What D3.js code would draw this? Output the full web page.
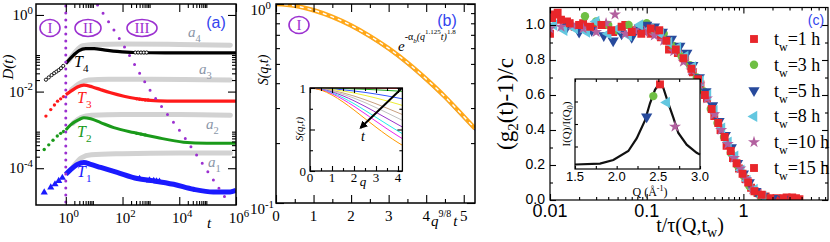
<!DOCTYPE html>
<html>
<head>
<meta charset="utf-8">
<script src="https://cdn.jsdelivr.net/npm/d3@7"></script>
<style>
    body { margin: 0; background: #fff; }
    svg { display: block; }
    text { font-family: "Liberation Serif", "Times New Roman", serif; }
    .sans { font-family: "Liberation Sans", Arial, sans-serif; }
</style>
</head>
<body>
<svg id="fig" width="830" height="242"></svg>
<script>
// ---- (a) D(t), pairs are [log10 t, log10 D] ----
const aT4 = [[0,-1.27],[0.23,-1.08],[0.47,-0.93],[0.7,-0.88],[1.0,-0.88],[1.34,-0.91],[1.81,-0.95],[2.4,-0.98],[3.5,-0.99],[5,-0.99],[6,-0.99]];
const aT4marks = [[-0.7,-1.69],[-0.6,-1.63],[-0.5,-1.57],[-0.41,-1.52],[-0.33,-1.48],[-0.25,-1.44],[-0.17,-1.39],[-0.09,-1.33],
                  [2.45,-0.98],[2.55,-0.98],[2.65,-0.98],[2.75,-0.98],[2.85,-0.98]];
const aT3 = [[0,-2.08],[0.18,-1.99],[0.41,-1.88],[0.64,-1.83],[0.94,-1.88],[1.23,-1.95],[1.58,-2.03],[2.05,-2.12],[2.46,-2.18],[2.98,-2.23],[3.57,-2.25],[6,-2.25]];
const aT3marks = [[-0.7,-2.64],[-0.53,-2.47],[-0.4,-2.35],[-0.29,-2.25],[-0.18,-2.19],[-0.08,-2.13],[2.5,-2.19],[2.6,-2.2],[2.7,-2.21],[2.8,-2.22],[2.9,-2.22]];
const aT2 = [[0,-3.0],[0.18,-2.86],[0.47,-2.73],[0.64,-2.68],[0.88,-2.71],[1.23,-2.81],[1.69,-2.94],[2.4,-3.07],[3.22,-3.2],[4.15,-3.32],[4.97,-3.35],[6,-3.35]];
const aT2marks = [[-0.76,-3.51],[-0.6,-3.39],[-0.45,-3.27],[-0.3,-3.16],[-0.18,-3.09],[-0.08,-3.04],[2.5,-3.09],[2.65,-3.11],[2.8,-3.13]];
const aT1 = [[0,-4.16],[0.18,-4.03],[0.41,-3.9],[0.64,-3.85],[0.88,-3.9],[1.23,-3.98],[1.81,-4.11],[2.52,-4.27],[3.1,-4.33],[3.8,-4.42],[4.5,-4.55],[5.2,-4.62],[5.79,-4.62],[6,-4.58]];
const aT1marks = [[-0.76,-4.63],[-0.53,-4.5],[-0.38,-4.42],[-0.25,-4.33],[-0.12,-4.25],[2.6,-4.28],[2.95,-4.32],[3.1,-4.33],[3.2,-4.34],[3.3,-4.35]];
const aA4 = [[0.1,-1.2],[0.35,-0.95],[0.6,-0.8],[1.0,-0.77],[2,-0.76],[4,-0.77],[5.8,-0.79]];
const aA3 = [[0.2,-1.95],[0.5,-1.78],[0.8,-1.7],[1.5,-1.68],[3,-1.68],[5.8,-1.7]];
const aA2 = [[0.25,-2.83],[0.55,-2.67],[0.9,-2.62],[2,-2.6],[4,-2.6],[5.8,-2.62]];
const aA1 = [[0.25,-3.97],[0.55,-3.73],[0.9,-3.65],[2,-3.62],[4,-3.6],[5.8,-3.6]];
const aDiagonal = [[1.12,0.26],[2.0,-0.75],[2.87,-1.85],[4.15,-3.16],[5.7,-4.86]];
const aBoundary = 1; // t = 1, dotted vertical line

// ---- (b) S(q,t) collapse versus q^(9/8) t ----
const bMaster = [[0,1],[0.5,0.98],[1,0.93],[1.5,0.862],[2,0.78],[2.5,0.69],[3,0.598],[3.5,0.507],[4,0.42],[4.5,0.342],[5,0.272],[5.3,0.237]];
const bUnder  = [[0,1],[0.5,0.977],[1,0.924],[1.5,0.853],[2,0.769],[2.5,0.679],[3,0.587],[3.5,0.497],[4,0.411],[4.5,0.335],[5,0.266],[5.3,0.232]];

// ---- (b) inset: S(q,t) versus q, one line per time ----
const insetQ = [0,0.5,1,1.5,2,2.5,3,3.5,4,4.2];
const insetColors = ["#e41a1c","#22aa22","#3355ff","#eeee33","#c8a080","#c0c0c0","#9933cc","#22eeee","#ee22ee","#ff9900"];
const insetS = [
    [1,1,1,1,0.999,0.998,0.997,0.996,0.995,0.995],
    [1,0.999,0.997,0.994,0.989,0.984,0.978,0.971,0.963,0.96],
    [1,0.997,0.99,0.978,0.964,0.947,0.927,0.905,0.88,0.87],
    [1,0.995,0.982,0.964,0.94,0.911,0.879,0.844,0.806,0.79],
    [1,0.992,0.971,0.941,0.903,0.859,0.81,0.757,0.702,0.68],
    [1,0.989,0.963,0.925,0.878,0.824,0.764,0.701,0.636,0.61],
    [1,0.986,0.953,0.905,0.846,0.779,0.707,0.633,0.559,0.53],
    [1,0.983,0.941,0.882,0.811,0.73,0.647,0.563,0.481,0.45],
    [1,0.98,0.931,0.862,0.78,0.691,0.599,0.508,0.422,0.39],
    [1,0.975,0.915,0.832,0.735,0.631,0.528,0.43,0.342,0.31]
];
const insetArrow = [[4.15,0.99],[2.3,0.52]];

// ---- (c) (g2(t)-1)/c versus t/tau, pairs are [t/tau, value] ----
const cLabels = ["=1 h","=3 h","=5 h","=8 h","=10 h","=15 h"];
const cColors = ["#e8262b","#6fbf44","#274a9c","#63c7e0","#b2609f","#e8262b"];
const c1h = [[0.01,0.95],[0.011,1.06],[0.012,1.07],[0.015,1.02],[0.018,0.99],[0.022,1.01],[0.028,0.98],[0.035,1.0],[0.045,0.96],[0.06,1.0],[0.075,0.97],[0.09,0.99],[0.11,0.95],[0.14,0.93],[0.17,0.86],[0.21,0.84],[0.25,0.8],[0.3,0.73],[0.36,0.66],[0.42,0.58],[0.5,0.48],[0.58,0.4],[0.67,0.31],[0.78,0.24],[0.9,0.18],[1.05,0.12],[1.2,0.07],[1.4,0.04],[1.7,0.02],[2.2,0.01],[2.8,0.015],[3.5,0.01]];
const c3h = [[0.023,1.05],[0.03,1.02],[0.04,1.0],[0.05,0.97],[0.065,1.0],[0.08,0.98],[0.1,1.01],[0.12,0.97],[0.15,0.95],[0.19,0.88],[0.23,0.82],[0.28,0.77],[0.33,0.7],[0.39,0.62],[0.46,0.52],[0.54,0.44],[0.63,0.36],[0.74,0.27],[0.86,0.2],[1.0,0.14],[1.15,0.08],[1.3,0.05],[1.5,0.02],[1.8,0.01]];
const c5h = [[0.015,0.99],[0.02,0.96],[0.027,0.97],[0.036,0.94],[0.045,0.91],[0.055,0.95],[0.07,0.93],[0.085,0.97],[0.1,1.0],[0.12,0.99],[0.145,0.96],[0.18,0.92],[0.22,0.88],[0.26,0.84],[0.3,0.77],[0.35,0.7],[0.41,0.62],[0.48,0.54],[0.56,0.45],[0.65,0.37],[0.75,0.3],[0.87,0.21],[1.0,0.15],[1.15,0.1],[1.35,0.05],[1.6,0.02],[2.0,0.01],[2.6,0.005]];
const c8h = [[0.011,1.0],[0.014,0.97],[0.018,0.98],[0.024,0.96],[0.03,1.02],[0.04,0.95],[0.05,0.98],[0.065,0.94],[0.085,1.0],[0.11,0.98],[0.14,0.95],[0.17,0.9],[0.21,0.87],[0.25,0.82],[0.3,0.76],[0.36,0.68],[0.43,0.6],[0.5,0.51],[0.6,0.41],[0.7,0.33],[0.82,0.25],[0.95,0.17],[1.1,0.11],[1.3,0.06],[1.6,0.02]];
const c10h = [[0.01,0.98],[0.013,0.99],[0.017,1.0],[0.022,0.98],[0.03,0.96],[0.038,1.01],[0.047,1.06],[0.06,0.95],[0.075,0.97],[0.095,0.96],[0.12,0.94],[0.15,0.91],[0.19,0.85],[0.24,0.79],[0.29,0.74],[0.35,0.66],[0.42,0.58],[0.5,0.49],[0.59,0.4],[0.69,0.32],[0.8,0.24],[0.93,0.18],[1.07,0.12],[1.25,0.06],[1.5,0.03]];
const c15h = [[0.0105,1.04],[0.013,1.03],[0.016,1.01],[0.02,1.0],[0.026,0.99],[0.034,1.0],[0.043,0.97],[0.055,0.99],[0.07,0.96],[0.088,0.95],[0.11,0.98],[0.135,0.97],[0.16,0.91],[0.2,0.86],[0.24,0.81],[0.29,0.75],[0.34,0.69],[0.4,0.6],[0.47,0.52],[0.55,0.44],[0.64,0.36],[0.74,0.28],[0.85,0.21],[0.98,0.15],[1.12,0.1],[1.3,0.05],[1.55,0.03],[1.9,0.01],[2.6,0.01],[3.2,0.015],[3.8,0.005]];

// ---- (c) inset: I(Q)/I(Q0) versus Q ----
const cInsetCurve = [[1.5,0.05],[1.8,0.06],[1.96,0.1],[2.14,0.2],[2.24,0.34],[2.34,0.54],[2.4,0.73],[2.46,0.88],[2.52,0.96],[2.56,0.9],[2.62,0.73],[2.68,0.57],[2.74,0.4],[2.84,0.27],[2.96,0.18],[3.0,0.16]];
const cInsetMarks = [[2.52,0.94],[2.44,0.81],[2.36,0.58],[2.6,0.74],[2.7,0.47]];


const svg = d3.select("#fig");
const purple = "#9b30d0";
const blueLbl = "#3344ee";

function clip(id, x0, y0, x1, y1) {
    svg.append("clipPath").attr("id", id)
        .append("rect").attr("x", x0).attr("y", y0).attr("width", x1 - x0).attr("height", y1 - y0);
}

// inward ticks on all four sides
function ticks(g, x, y, xv, yv, len, sides = "blrt") {
    const [xl, xr] = x.range(), [yb, yt] = y.range();
    const add = (axis, tr) => g.append("g").attr("transform", tr)
        .call(axis.tickSize(-len).tickFormat(""))
        .call(s => s.select(".domain").remove())
        .call(s => s.selectAll("line").attr("stroke", "#000").attr("stroke-width", 1.1));
    if (xv) {
        if (sides.includes("b")) add(d3.axisBottom(x).tickValues(xv), `translate(0,${yb})`);
        if (sides.includes("t")) add(d3.axisTop(x).tickValues(xv), `translate(0,${yt})`);
    }
    if (yv) {
        if (sides.includes("l")) add(d3.axisLeft(y).tickValues(yv), `translate(${xl},0)`);
        if (sides.includes("r")) add(d3.axisRight(y).tickValues(yv), `translate(${xr},0)`);
    }
}

function frame(g, x, y, w = 1.5) {
    const [xl, xr] = x.range(), [yb, yt] = y.range();
    g.append("rect").attr("x", xl).attr("y", yt).attr("width", xr - xl).attr("height", yb - yt)
        .attr("fill", "none").attr("stroke", "#000").attr("stroke-width", w);
}

function powText(g, x, y, exp, anchor, size) {
    const t = g.append("text").attr("x", x).attr("y", y).attr("text-anchor", anchor)
        .style("font-size", size + "px");
    t.append("tspan").text("10");
    t.append("tspan").attr("dy", -size * 0.42).style("font-size", (size * 0.72) + "px").text(exp);
    return t;
}

function roman(g, cx, cy, rx, label) {
    g.append("ellipse").attr("cx", cx).attr("cy", cy).attr("rx", rx).attr("ry", 8.5)
        .attr("fill", "none").attr("stroke", purple).attr("stroke-width", 1.6);
    g.append("text").attr("x", cx).attr("y", cy + 5).attr("text-anchor", "middle")
        .style("font-size", "15px").attr("fill", purple).text(label);
}

function subLabel(g, x, y, main, sub, color, size) {
    const t = g.append("text").attr("x", x).attr("y", y).attr("fill", color)
        .style("font-size", size + "px").style("font-style", "italic");
    t.append("tspan").text(main);
    t.append("tspan").attr("dy", size * 0.3).style("font-size", (size * 0.7) + "px")
        .style("font-style", "normal").text(sub);
}

// ======================= (a) =======================
const ax = d3.scaleLog().domain([10 ** -1.05, 1e6]).range([36, 236]);
const ay = d3.scaleLog().domain([10 ** -4.96, 10 ** 0.286]).range([205, 4]);
const ga = svg.append("g");
clip("clipA", 36, 4, 236, 205);
const pa = ga.append("g").attr("clip-path", "url(#clipA)");
const aLine = d3.line().x(d => ax(10 ** d[0])).y(d => ay(10 ** d[1])).curve(d3.curveMonotoneX);

[aA4, aA3, aA2, aA1].forEach(s => {
    pa.append("path").datum(s).attr("d", aLine).attr("fill", "none")
        .attr("stroke", "#d2d2d2").attr("stroke-width", 5).attr("stroke-linecap", "round");
});

const aSeries = [
    { line: aT4, marks: aT4marks, color: "#000", w: 3.2, sym: "open" },
    { line: aT3, marks: aT3marks, color: "#ff1a1a", w: 3.2, sym: "dot" },
    { line: aT2, marks: aT2marks, color: "#1a9a1a", w: 3, sym: "dot" },
    { line: aT1, marks: aT1marks, color: "#1a1aff", w: 5, sym: "tri" }
];
aSeries.forEach(s => {
    pa.append("path").datum(s.line).attr("d", aLine).attr("fill", "none")
        .attr("stroke", s.color).attr("stroke-width", s.w);
    const m = pa.append("g").selectAll("path").data(s.marks).enter().append("path")
        .attr("transform", d => `translate(${ax(10 ** d[0])},${ay(10 ** d[1])})`);
    if (s.sym === "open") {
        m.attr("d", d3.symbol(d3.symbolCircle, 8)).attr("fill", "#fff").attr("stroke", s.color).attr("stroke-width", 0.9);
    } else if (s.sym === "tri") {
        m.attr("d", d3.symbol(d3.symbolTriangle, 22)).attr("fill", s.color);
    } else {
        m.attr("d", d3.symbol(d3.symbolCircle, 9)).attr("fill", s.color);
    }
});

// purple guide dots
pa.append("line")
    .attr("x1", ax(aBoundary)).attr("x2", ax(aBoundary))
    .attr("y1", ay.range()[1] + 2).attr("y2", ay.range()[0])
    .attr("stroke", purple).attr("stroke-width", 3).attr("stroke-linecap", "round")
    .attr("stroke-dasharray", "0,7");
pa.append("path").datum(aDiagonal).attr("d", aLine).attr("fill", "none")
    .attr("stroke", purple).attr("stroke-width", 3).attr("stroke-linecap", "round")
    .attr("stroke-dasharray", "0,10");

const aXminor = [], aYminor = [];
[1, 1e2, 1e4].forEach(b => d3.range(2, 10).forEach(k => aXminor.push(k * b)));
[1e-2, 1e-4].forEach(b => d3.range(2, 10).forEach(k => aYminor.push(k * b)));
ticks(ga, ax, ay, [1, 1e2, 1e4, 1e6], [1, 1e-2, 1e-4], 8);
ticks(ga, ax, ay, aXminor, aYminor, 4);
frame(ga, ax, ay);

[[1, "0"], [1e2, "2"], [1e4, "4"], [1e6, "6"]].forEach(([v, e]) => powText(ga, ax(v) + 3, 223, e, "middle", 15));
[[1, "0"], [1e-2, "-2"], [1e-4, "-4"]].forEach(([v, e]) => powText(ga, 33, ay(v) + 5, e, "end", 15));

ga.append("text").attr("transform", "translate(13,67) rotate(-90)").attr("text-anchor", "middle")
    .style("font-size", "15px").style("font-style", "italic").text("D(t)");
ga.append("text").attr("x", 207).attr("y", 228).style("font-size", "15px").style("font-style", "italic").text("t");

roman(ga, 50, 28, 10, "I");
roman(ga, 88, 28, 13, "II");
roman(ga, 142, 28, 15, "III");
ga.append("text").attr("class", "sans").attr("x", 216).attr("y", 28).attr("text-anchor", "middle")
    .style("font-size", "16px").attr("fill", blueLbl).text("(a)");

subLabel(ga, 74, 67, "T", "4", "#000", 16);
subLabel(ga, 77, 103, "T", "3", "#ff1a1a", 16);
subLabel(ga, 77, 137, "T", "2", "#1a9a1a", 16);
subLabel(ga, 77, 177, "T", "1", "#1a1aff", 16);
subLabel(ga, 188, 37, "a", "4", "#8a96a8", 15);
subLabel(ga, 199, 74, "a", "3", "#8a96a8", 15);
subLabel(ga, 206, 129, "a", "2", "#8a96a8", 15);
subLabel(ga, 208, 167, "a", "1", "#8a96a8", 15);

// ======================= (b) =======================
const bx = d3.scaleLinear().domain([0, 5.3]).range([276, 475]);
const by = d3.scaleLog().domain([0.1, 1]).range([203, 4]);
const gb = svg.append("g");
clip("clipB", 276, 4, 475, 203);
const pb = gb.append("g").attr("clip-path", "url(#clipB)");
const bLine = d3.line().x(d => bx(d[0])).y(d => by(d[1])).curve(d3.curveMonotoneX);

pb.append("path").datum(bUnder).attr("d", bLine).attr("fill", "none").attr("stroke", "#4466ff").attr("stroke-width", 1.2);
pb.append("path").datum(bMaster).attr("d", bLine).attr("fill", "none").attr("stroke", "#ffa81a").attr("stroke-width", 4.5);
pb.append("path").datum(bMaster).attr("d", bLine).attr("fill", "none").attr("stroke", "#fff")
    .attr("stroke-width", 1.4).attr("stroke-dasharray", "4,4");

ticks(gb, bx, by, d3.range(0, 6), [0.1, 1], 8);
ticks(gb, bx, by, d3.range(0.5, 5.5, 1), d3.range(2, 10).map(k => k / 10), 4);
frame(gb, bx, by);

d3.range(0, 6).forEach(v => gb.append("text").attr("x", bx(v)).attr("y", 221).attr("text-anchor", "middle")
    .style("font-size", "15px").text(v));
powText(gb, 271, 15, "0", "end", 15);
powText(gb, 274, 214, "-1", "end", 15);
gb.append("text").attr("transform", "translate(268,70) rotate(-90)").attr("text-anchor", "middle")
    .style("font-size", "14px").style("font-style", "italic").text("S(q,t)");

const qt = gb.append("text").attr("x", 431).attr("y", 226).style("font-size", "15px").style("font-style", "italic");
qt.append("tspan").text("q");
qt.append("tspan").attr("dy", -9).style("font-size", "10px").style("font-style", "normal").text("9/8");
qt.append("tspan").attr("dy", 9).attr("dx", 2).text("t");

roman(gb, 299, 25, 10, "I");
gb.append("text").attr("class", "sans").attr("x", 447).attr("y", 26).attr("text-anchor", "middle")
    .style("font-size", "16px").attr("fill", blueLbl).text("(b)");

const fe = gb.append("text").attr("x", 398).attr("y", 51).style("font-size", "15px").style("font-style", "italic");
fe.append("tspan").text("e");
fe.append("tspan").attr("dy", -11).style("font-size", "10px").style("font-style", "normal").text("-α");
fe.append("tspan").attr("dy", 3).style("font-size", "7px").text("b");
fe.append("tspan").attr("dy", -3).style("font-size", "10px").text("(q");
fe.append("tspan").attr("dy", -6).style("font-size", "7px").style("font-style", "normal").text("1.125");
fe.append("tspan").attr("dy", 6).style("font-size", "10px").text("t)");
fe.append("tspan").attr("dy", -6).style("font-size", "7px").style("font-style", "normal").text("1.8");

// inset (b)
const bix = d3.scaleLinear().domain([0, 4.2]).range([310, 402.4]);
const biy = d3.scaleLinear().domain([0, 1]).range([171, 88]);
const gbi = gb.append("g");
gbi.append("rect").attr("x", 310).attr("y", 88).attr("width", 92.4).attr("height", 83).attr("fill", "#fff");
const biLine = d3.line().x((d, i) => bix(insetQ[i])).y(d => biy(d)).curve(d3.curveMonotoneX);
gbi.selectAll(".iline").data(insetS).enter().append("path")
    .attr("d", biLine).attr("fill", "none").attr("stroke", (d, i) => insetColors[i]).attr("stroke-width", 1);
ticks(gbi, bix, biy, d3.range(0, 4.5, 1), [0, 0.5, 1], 5);
ticks(gbi, bix, biy, d3.range(0.5, 4.2, 1), [0.25, 0.75], 3);
frame(gbi, bix, biy, 1.3);
d3.range(0, 5).forEach(v => gbi.append("text").attr("x", bix(v)).attr("y", 182).attr("text-anchor", "middle")
    .style("font-size", "13px").text(v));
gbi.append("text").attr("x", 306).attr("y", 93).attr("text-anchor", "end").style("font-size", "13px").text("1");
gbi.append("text").attr("x", 306).attr("y", 176).attr("text-anchor", "end").style("font-size", "13px").text("0");
gbi.append("text").attr("x", 363).attr("y", 186).attr("text-anchor", "middle")
    .style("font-size", "13px").style("font-style", "italic").text("q");
gbi.append("text").attr("transform", "translate(303,129) rotate(-90)").attr("text-anchor", "middle")
    .style("font-size", "11px").style("font-style", "italic").text("S(q,t)");

svg.append("defs").append("marker").attr("id", "arr").attr("viewBox", "0 0 10 10")
    .attr("refX", 8).attr("refY", 5).attr("markerWidth", 4).attr("markerHeight", 4).attr("orient", "auto")
    .append("path").attr("d", "M0,0L10,5L0,10z").attr("fill", "#000");
gbi.append("line")
    .attr("x1", bix(insetArrow[0][0])).attr("y1", biy(insetArrow[0][1]))
    .attr("x2", bix(insetArrow[1][0])).attr("y2", biy(insetArrow[1][1]))
    .attr("stroke", "#000").attr("stroke-width", 2).attr("marker-end", "url(#arr)");
gbi.append("text").attr("x", 361).attr("y", 141).style("font-size", "14px").style("font-style", "italic").text("t");

// ======================= (c) =======================
const cx = d3.scaleLog().domain([0.01, 7.5]).range([550, 828]);
const cy = d3.scaleLinear().domain([0, 1.1]).range([200, 7.5]);
const gc = svg.append("g");
clip("clipC", 550, 7.5, 828, 200);
const pc = gc.append("g").attr("clip-path", "url(#clipC)");

const symbols = [
    { type: d3.symbolSquare, size: 62, rot: 0 },
    { type: d3.symbolCircle, size: 55, rot: 0 },
    { type: d3.symbolTriangle, size: 55, rot: 180 },
    { type: d3.symbolTriangle, size: 55, rot: -90 },
    { type: d3.symbolStar, size: 45, rot: 0 },
    { type: d3.symbolSquare, size: 62, rot: 0 }
];
const cSeries = [c1h, c3h, c5h, c8h, c10h, c15h];
cSeries.forEach((s, i) => {
    pc.append("g").selectAll("path").data(s).enter().append("path")
        .attr("d", d3.symbol(symbols[i].type, symbols[i].size))
        .attr("transform", d => `translate(${cx(d[0])},${cy(d[1])}) rotate(${symbols[i].rot})`)
        .attr("fill", cColors[i]);
});

const cXminor = [];
[0.01, 0.1, 1].forEach(b => d3.range(2, 10).forEach(k => { if (k * b < 7.5) cXminor.push(k * b); }));
ticks(gc, cx, cy, [0.01, 0.1, 1], d3.range(0, 1.01, 0.2), 6);
ticks(gc, cx, cy, cXminor, d3.range(0.1, 1.1, 0.2), 3);
frame(gc, cx, cy, 1.2);

[0.01, 0.1, 1].forEach(v => gc.append("text").attr("class", "sans").attr("x", cx(v)).attr("y", 217)
    .attr("text-anchor", "middle").style("font-size", "18px").text(v));
d3.range(0, 1.01, 0.2).forEach(v => gc.append("text").attr("class", "sans").attr("x", 545).attr("y", cy(v) + 4)
    .attr("text-anchor", "end").style("font-size", "14px").text(v.toFixed(1)));

const yl = gc.append("text").attr("transform", "translate(513,104) rotate(-90)").attr("text-anchor", "middle")
    .style("font-size", "23px");
yl.append("tspan").text("(g");
yl.append("tspan").attr("dy", 5).style("font-size", "15px").text("2");
yl.append("tspan").attr("dy", -5).text("(t)-1)/c");

const xl = gc.append("text").attr("x", 690).attr("y", 232).attr("text-anchor", "middle").style("font-size", "20px");
xl.append("tspan").text("t/τ(Q,t");
xl.append("tspan").attr("dy", 5).style("font-size", "14px").text("w");
xl.append("tspan").attr("dy", -5).text(")");

gc.append("text").attr("class", "sans").attr("x", 816).attr("y", 25).attr("text-anchor", "middle")
    .style("font-size", "14px").attr("fill", blueLbl).text("(c)");

// legend
cLabels.forEach((lab, i) => {
    const ly = 39 + i * 25.8;
    gc.append("path").attr("d", d3.symbol(symbols[i].type, symbols[i].size))
        .attr("transform", `translate(754,${ly}) rotate(${symbols[i].rot})`).attr("fill", cColors[i]);
    const t = gc.append("text").attr("x", 774).attr("y", ly + 6).style("font-size", "18px");
    t.append("tspan").text("t");
    t.append("tspan").attr("dy", 6).style("font-size", "12px").text("w");
    t.append("tspan").attr("dy", -6).text(lab);
});

// inset (c)
const cix = d3.scaleLinear().domain([1.5, 3.0]).range([575, 700]);
const ciy = d3.scaleLinear().domain([0, 1]).range([169, 79]);
const gci = gc.append("g");
gci.append("rect").attr("x", 575).attr("y", 79).attr("width", 125).attr("height", 90).attr("fill", "#fff");
gci.append("path").datum(cInsetCurve)
    .attr("d", d3.line().x(d => cix(d[0])).y(d => ciy(d[1])))
    .attr("fill", "none").attr("stroke", "#111").attr("stroke-width", 2.2);
gci.selectAll(".im").data(cInsetMarks).enter().append("path")
    .attr("d", (d, i) => d3.symbol(symbols[i].type, symbols[i].size)())
    .attr("transform", (d, i) => `translate(${cix(d[0])},${ciy(d[1])}) rotate(${symbols[i].rot})`)
    .attr("fill", (d, i) => cColors[i]);
ticks(gci, cix, ciy, d3.range(1.5, 3.01, 0.25), [0.25, 0.5, 0.75], 3, "blt");
frame(gci, cix, ciy, 1.2);
[1.5, 2.0, 2.5, 3.0].forEach(v => gci.append("text").attr("class", "sans").attr("x", cix(v)).attr("y", 181)
    .attr("text-anchor", "middle").style("font-size", "13px").text(v.toFixed(1)));
const ql = gci.append("text").attr("x", 650).attr("y", 196).attr("text-anchor", "middle").style("font-size", "12px");
ql.append("tspan").text("Q (Å");
ql.append("tspan").attr("dy", -5).style("font-size", "8px").text("-1");
ql.append("tspan").attr("dy", 5).text(")");
const il = gci.append("text").attr("transform", "translate(570,124) rotate(-90)").attr("text-anchor", "middle")
    .style("font-size", "11px");
il.append("tspan").text("I(Q)/I(Q");
il.append("tspan").attr("dy", 3).style("font-size", "8px").text("0");
il.append("tspan").attr("dy", -3).text(")");
</script>
</body>
</html>
